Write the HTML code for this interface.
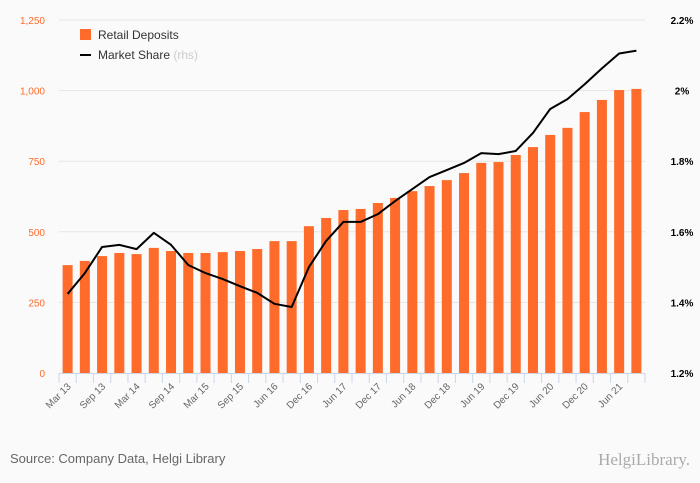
<!DOCTYPE html>
<html><head><meta charset="utf-8"><style>
body{margin:0;background:#fafafa;font-family:"Liberation Sans",sans-serif;}
svg{display:block}
</style></head><body>
<svg id="chart" width="700" height="483" viewBox="0 0 700 483">
<rect width="700" height="483" fill="#fafafa"/>
<g id="grid"></g><g id="bars"></g><g id="line"></g><g id="axes"></g>
<g>
<rect x="80" y="29" width="11" height="11" fill="#ff6b2b"/>
<text x="98" y="39" font-size="12" fill="#333">Retail Deposits</text>
<line x1="80" y1="55" x2="91" y2="55" stroke="#000" stroke-width="2"/>
<text x="98" y="59" font-size="12" fill="#333">Market Share <tspan fill="#ccc">(rhs)</tspan></text>
</g>
<text x="10" y="463" font-size="13" fill="#666">Source: Company Data, Helgi Library</text>
<text x="690" y="465" font-size="17" fill="#aaa" text-anchor="end" font-family="Liberation Serif,serif">HelgiLibrary.</text>
</svg>
<script>
const labels=["Mar 13","Sep 13","Mar 14","Sep 14","Mar 15","Sep 15","Jun 16","Dec 16","Jun 17","Dec 17","Jun 18","Dec 18","Jun 19","Dec 19","Jun 20","Dec 20","Jun 21"];
const deposits=[382,397,414,425,421,443,432,425,425,428,432,439,467,467,520,549,577,581,602,620,644,662,683,708,744,747,772,800,843,868,924,967,1002,1006];
const share=[1.424,1.483,1.557,1.563,1.551,1.597,1.563,1.506,1.483,1.466,1.446,1.427,1.396,1.387,1.500,1.574,1.628,1.628,1.650,1.687,1.721,1.755,1.775,1.795,1.823,1.820,1.829,1.880,1.948,1.976,2.018,2.063,2.105,2.113];
const leftTicks=[0,250,500,750,1000,1250];
const rightTicks=[1.2,1.4,1.6,1.8,2.0,2.2];
const NS="http://www.w3.org/2000/svg";
const X0=59,X1=645,Y0=373,Y1=20;
const n=deposits.length,step=(X1-X0)/n;
const xc=i=>X0+step*(i+0.5);
const yL=v=>Y0-(v/1250)*(Y0-Y1);
const yR=v=>Y0-((v-1.2)/1.0)*(Y0-Y1);
function mk(t,a,p){const e=document.createElementNS(NS,t);for(const k in a)e.setAttribute(k,a[k]);p.appendChild(e);return e;}
const grid=document.getElementById('grid'),bars=document.getElementById('bars'),line=document.getElementById('line'),axes=document.getElementById('axes');
leftTicks.forEach((t,i)=>{
 const y=yL(t);
 if(i>0){const g=mk('line',{x1:X0,x2:X1,y1:y,y2:y,stroke:'#e6e6e6','stroke-width':1},grid);
 
 }
 const tx=mk('text',{x:45,y:y+4,'font-size':10,fill:'#ff6b2b','text-anchor':'end'},axes);
 tx.textContent=t.toLocaleString('en-US');
 
 
});
rightTicks.forEach(t=>{
 const tx=mk('text',{x:682,y:yR(t)+4,'font-size':10,fill:'#000','text-anchor':'middle','font-weight':'bold'},axes);
 tx.textContent=(Math.round(t*10)/10)+'%';
 
 
});
deposits.forEach((v,i)=>{
 const r=mk('rect',{x:xc(i)-5,y:yL(v),width:10,height:Y0-yL(v),fill:'#ff6b2b'},bars);
 
 
});
const pl=mk('polyline',{points:share.map((v,i)=>xc(i)+','+yR(v)).join(' '),fill:'none',stroke:'#000','stroke-width':2,'stroke-linejoin':'round'},line);


const ax=mk('line',{x1:X0,x2:X1,y1:Y0+0.5,y2:Y0+0.5,stroke:'#ccd6eb'},axes);


for(let i=0;i<=n;i++){const x=X0+step*i;const tk=mk('line',{x1:x,x2:x,y1:Y0,y2:Y0+10,stroke:'#ccd6eb'},axes);
 
 }
labels.forEach((l,j)=>{
 const x=xc(j*2)+4,y=Y0+14;
 const tx=mk('text',{x:x,y:y,'font-size':10,fill:'#666','text-anchor':'end',transform:`rotate(-45 ${x} ${y})`},axes);
 tx.textContent=l;
 
 
});
</script>
</body></html>
